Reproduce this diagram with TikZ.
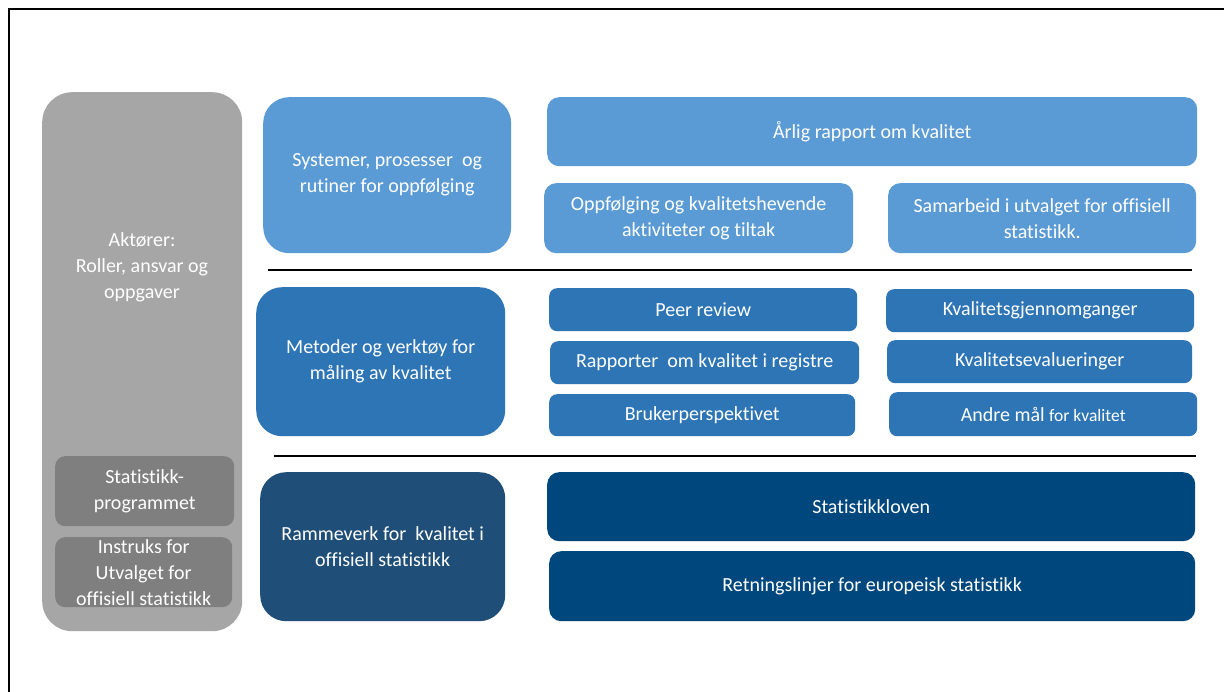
\documentclass[tikz,border=0pt]{standalone}
\usepackage{fontspec}
\setmainfont{Carlito}[Ligatures=NoCommon]
\definecolor{lblue}{HTML}{5B9BD5}
\definecolor{mblue}{HTML}{2E75B6}
\definecolor{dblue}{HTML}{1F4E79}
\definecolor{nblue}{HTML}{00477E}
\definecolor{lgray}{HTML}{A6A6A6}
\definecolor{dgray}{HTML}{7F7F7F}
\tikzset{
  box/.style={anchor=north west, inner sep=0pt, align=center, text=white,
    font=\fontsize{20}{26}\selectfont},
  lbox/.style={box, fill=lblue, rounded corners=12pt},
  mbox/.style={box, fill=mblue, rounded corners=8pt},
  bigbox/.style={box, rounded corners=26pt},
  sep/.style={line width=2pt, black},
}
\newcommand{\bx}[6]{% style, name, x1, y1, x2, y2 ; text follows
  \node[#1, minimum width={#5-#3}, minimum height={#6-#4}] (#2) at (#3,#4)}
\begin{document}
\begin{tikzpicture}[x=1pt,y=-1pt]
\useasboundingbox (0,0) rectangle (1224,692);
\clip (0,0) rectangle (1224,692);
\fill[white] (0,0) rectangle (1224,692);
\draw[line width=2pt] (9,9) rectangle (1240,710);

% left actors column
\bx{bigbox, fill=lgray, rounded corners=30pt}{akt}{42}{92}{242}{631} {};
\node[box, anchor=center, text=white] (akttxt) at (142,267) {Aktører:\\Roller, ansvar og\\oppgaver};
\bx{box, fill=dgray, rounded corners=10pt}{stp}{55}{456}{234}{526} {Statistikk-\\programmet};
\bx{box, fill=dgray, rounded corners=10pt}{ins}{55}{537}{232}{607} {Instruks for\\Utvalget for\\offisiell statistikk};

% row 1
\bx{bigbox, fill=lblue}{sys}{263}{97}{511}{253} {Systemer, prosesser\ \ og\\rutiner for oppfølging};
\bx{lbox}{arl}{547}{97}{1197}{166} {Årlig rapport om kvalitet};
\bx{lbox}{opp}{544}{183}{853}{253} {Oppfølging og kvalitetshevende\\aktiviteter og tiltak};
\bx{lbox}{sam}{888}{183}{1196}{253} {Samarbeid i utvalget for offisiell\\statistikk.};
\draw[sep] (268,270) -- (1192,270);

% row 2
\bx{bigbox, fill=mblue}{met}{256}{287}{505}{436} {Metoder og verktøy for\\måling av kvalitet};
\bx{mbox}{peer}{549}{288}{857}{331} {Peer review};
\bx{mbox}{rap}{550}{341}{859}{384} {Rapporter\ \ om kvalitet i registre};
\bx{mbox}{bru}{549}{394}{855}{436} {Brukerperspektivet};
\bx{mbox}{kgj}{886}{289}{1194}{332} {Kvalitetsgjennomganger};
\bx{mbox}{kev}{887}{340}{1192}{383} {Kvalitetsevalueringer};
\bx{mbox}{and}{889}{392}{1197}{436} {Andre mål {\fontsize{17.5}{20}\selectfont for kvalitet}};
\draw[sep] (274,456) -- (1196,456);

% row 3
\bx{bigbox, fill=dblue}{ram}{260}{472}{505}{621} {Rammeverk for\ \ kvalitet i\\offisiell statistikk};
\bx{lbox, fill=nblue}{lov}{547}{472}{1195}{541} {Statistikkloven};
\bx{lbox, fill=nblue}{ret}{549}{551}{1195}{621} {Retningslinjer for europeisk statistikk};
\end{tikzpicture}
\end{document}
